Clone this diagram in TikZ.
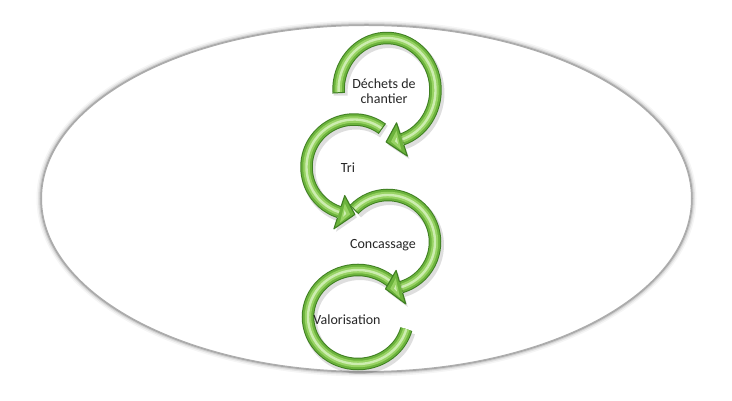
\documentclass[tikz,border=0pt]{standalone}
\usepackage{fontspec}
\setmainfont{Carlito}
\definecolor{leafdark}{HTML}{3F7F22}
\definecolor{leafmid}{HTML}{6CB33C}
\definecolor{leaflight}{HTML}{98D364}
\definecolor{leafshine}{HTML}{CDEDB0}
\definecolor{inkgray}{HTML}{262626}
\tikzset{x=1pt,y=1pt,
	stagetext/.style={
		text=inkgray,
		align=center,
		inner sep=0pt,
		font=\fontsize{14}{15.5}\selectfont
	},
	boardline/.style={
		draw=gray!65,
		line width=1pt
	},
	shade off/.style={
		black,
		opacity=0.13
	}
}
\newcommand\ringpt[5]{%
	\pgfmathsetmacro\px{(#4)*cos(#3)}\pgfmathsetmacro\py{(#5)*sin(#3)}%
	\path (#2) ++(\px,\py) coordinate (#1);%
}
\newcommand\cycleband[5]{%
	\ringpt{bs}{#1}{#4}{#2}{#3}
	\draw[shade off,line width=14pt] ([xshift=2pt,yshift=-3pt]bs) arc[start angle=#4,end angle=#5,x radius=#2,y radius=#3];
	\foreach \w/\col in {12.5/leafdark,10.5/leafmid,6.5/leaflight,2.4/leafshine}
		\draw[line width=\w pt,draw=\col] (bs) arc[start angle=#4,end angle=#5,x radius=#2,y radius=#3];
	\ringpt{ba}{#1}{#4}{#2-6.25}{#3-6.25}
	\ringpt{bb}{#1}{#4}{#2+6.25}{#3+6.25}
	\draw[leafdark,line width=1pt] (ba) -- (bb);
}
\newcommand\cyclehead[5]{%
	\ringpt{ha}{#1}{#4}{#2-17.5}{#3-17.5}
	\ringpt{hb}{#1}{#4}{#2+17.5}{#3+17.5}
	\ringpt{hc}{#1}{#4}{#2-6}{#3-6}
	\ringpt{hd}{#1}{#4}{#2+6}{#3+6}
	\ringpt{ht}{#1}{#5}{#2}{#3}
	\fill[shade off] ([xshift=2pt,yshift=-3pt]ha) -- ([xshift=2pt,yshift=-3pt]ht) -- ([xshift=2pt,yshift=-3pt]hb) -- cycle;
	\fill[leafmid] (ha) -- (ht) -- (hb) -- cycle;
	\ringpt{ia}{#1}{#4+0.2*(#5-#4)}{#2-10}{#3-10}
	\ringpt{ib}{#1}{#4+0.2*(#5-#4)}{#2+10}{#3+10}
	\ringpt{it}{#1}{#5-0.3*(#5-#4)}{#2}{#3}
	\fill[leaflight] (ia) -- (it) -- (ib) -- cycle;
	\ringpt{ja}{#1}{#4+0.3*(#5-#4)}{#2-3.5}{#3-3.5}
	\ringpt{jb}{#1}{#4+0.3*(#5-#4)}{#2+3.5}{#3+3.5}
	\ringpt{jt}{#1}{#5-0.55*(#5-#4)}{#2}{#3}
	\fill[leafshine] (ja) -- (jt) -- (jb) -- cycle;
	\draw[leafdark,line width=1.1pt,line join=round] (hd) -- (hb) -- (ht) -- (ha) -- (hc);
}

\begin{document}
\begin{tikzpicture}
	\useasboundingbox (0,0) rectangle (732,401);
	\coordinate (board) at (366.5,202.5);
	\foreach \w/\o in {10/0.04,7/0.07,4.5/0.1,2.5/0.18}
		\draw[black,opacity=\o,line width=\w pt] (board) ellipse[x radius=325,y radius=173];
	\fill[white] (board) ellipse[x radius=325,y radius=173];
	\draw[boardline] (board) ellipse[x radius=325,y radius=173];

	\coordinate (ring1) at (387,311);
	\coordinate (ring2) at (354,234);
	\coordinate (ring3) at (388,159);
	\coordinate (ring4) at (358,84);

	\cycleband{ring4}{50}{47}{45}{345}
	\cycleband{ring3}{47}{47}{136}{-74}
	\cyclehead{ring3}{47}{47}{-74}{-93}
	\cycleband{ring2}{47.5}{47.5}{54}{252}
	\cyclehead{ring2}{47.5}{47.5}{252}{271}
	\cycleband{ring1}{48.5}{52}{183}{-72}
	\cyclehead{ring1}{48.5}{52}{-72}{-91}

	\node[stagetext] (dechets) at (384,310) {Déchets de\\chantier};
	\node[stagetext] (tri) at (348,233) {Tri};
	\node[stagetext] (concassage) at (383,156) {Concassage};
	\node[stagetext] (valorisation) at (347,81) {Valorisation};
\end{tikzpicture}
\end{document}
